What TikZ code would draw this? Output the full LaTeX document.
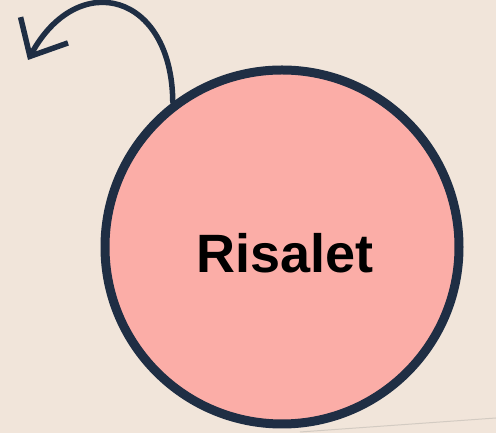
\documentclass[tikz,border=0pt]{standalone}
\usepackage{fontspec}
\setmainfont{Liberation Sans}
\usetikzlibrary{
  positioning,
  arrows.meta,
}
\definecolor{paper}{HTML}{F1E5DA}
\definecolor{fillPink}{HTML}{FBADA7}
\definecolor{border}{HTML}{1F2E44}
\definecolor{edgeGray}{HTML}{D3CBC2}
\tikzset{
  bigcircle/.style={
    circle, draw=border, fill=fillPink, line width=9pt,
    minimum size=354pt, inner sep=0pt, align=center,
    font=\fontsize{54}{60}\selectfont\bfseries, text=black,
  },
  looparrow/.style={
    -{Straight Barb[length=30pt, width=54pt, line width=5.5pt]},
    draw=border, line width=5.5pt, line cap=round,
  },
}

\begin{document}
\begin{tikzpicture}[x=1pt, y=1pt]

  % canvas
  \fill[paper] (0,0) rectangle (496,433);
  \useasboundingbox (0,0) rectangle (496,433);
  \draw[edgeGray, line width=1pt] (300,1) -- (496,15);

  % main circle
  \node[bigcircle] (risalet) at (282,186) {\hspace*{6pt}\raisebox{-26pt}[0pt][0pt]{Risalet}};

  % curved arrow
  \coordinate (tip) at (28,373);
  \draw[looparrow] (risalet.127) .. controls (172,440) and (78,465) .. (tip);

\end{tikzpicture}
\end{document}
